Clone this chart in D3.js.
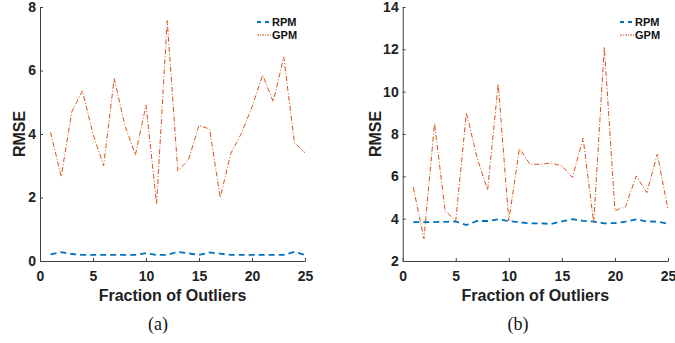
<!DOCTYPE html>
<html>
<head>
<meta charset="utf-8">
<script src="https://cdn.jsdelivr.net/npm/d3@7"></script>
<style>
  body { margin: 0; background: #fff; }
  svg { display: block; }
  .tick text { font-family: "Liberation Sans", Arial, sans-serif; font-weight: bold; font-size: 14px; fill: #222; }
  .axis path, .axis line { stroke: #404040; stroke-width: 1; }
  .lab { font-family: "Liberation Sans", Arial, sans-serif; font-weight: bold; font-size: 16px; fill: #222; }
  .leg { font-family: "Liberation Sans", Arial, sans-serif; font-weight: bold; font-size: 11px; fill: #111; }
  .cap { font-family: "Liberation Serif", "Times New Roman", serif; font-size: 18px; fill: #111; }
</style>
</head>
<body>
<svg id="chart" width="675" height="343"></svg>
<script>
// fraction of outliers
var outliers = [1,2,3,4,5,6,7,8,9,10,11,12,13,14,15,16,17,18,19,20,21,22,23,24,25];
var xTicks = [0,5,10,15,20,25];

// panel (a)
var rpmA = [0.21,0.28,0.22,0.19,0.19,0.19,0.19,0.19,0.19,0.25,0.19,0.19,0.29,0.24,0.19,0.27,0.23,0.19,0.19,0.19,0.19,0.19,0.19,0.29,0.19];
var gpmA = [4.05,2.66,4.70,5.36,4.0,3.0,5.75,4.28,3.34,4.91,1.80,7.57,2.84,3.18,4.28,4.15,2.0,3.39,4.02,4.85,5.86,5.02,6.42,3.73,3.41];
var yTicksA = [0,2,4,6,8];

// panel (b)
var rpmB = [3.84,3.84,3.84,3.85,3.87,3.70,3.89,3.89,3.97,3.89,3.83,3.78,3.78,3.75,3.87,3.98,3.9,3.86,3.78,3.79,3.86,3.97,3.87,3.86,3.76];
var gpmB = [5.48,3.05,8.5,4.36,3.9,9.0,6.9,5.35,10.36,3.9,7.32,6.57,6.57,6.63,6.49,5.95,7.8,3.81,12.12,4.38,4.57,6.02,5.23,7.05,4.41];
var yTicksB = [2,4,6,8,10,12,14];

var seriesNames = ["RPM", "GPM"];
var colors = ["#0072BD", "#D95319"];
var dashes = ["6,4", "5,2,1,2"];
var widths = [1.8, 1];

var svg = d3.select("#chart");

function panel(opts) {
  var x = d3.scaleLinear().domain([0, 25]).range([opts.x0, opts.x1]);
  var y = d3.scaleLinear().domain(opts.yDomain).range([261, 7]);
  var g = svg.append("g");

  g.append("g").attr("class", "axis")
    .attr("transform", "translate(0,261)")
    .call(d3.axisBottom(x).tickValues(xTicks).tickSizeInner(-3).tickSizeOuter(0).tickPadding(10));
  g.append("g").attr("class", "axis")
    .attr("transform", "translate(" + opts.x0 + ",0)")
    .call(d3.axisLeft(y).tickValues(opts.yTicks).tickSizeInner(-3).tickSizeOuter(0).tickPadding(4));

  var line = d3.line().x(function(d, i){ return x(outliers[i]); }).y(function(d){ return y(d); });
  [opts.rpm, opts.gpm].forEach(function(s, k){
    g.append("path").datum(s)
      .attr("d", line)
      .attr("fill", "none")
      .attr("stroke", colors[k])
      .attr("stroke-width", widths[k])
      .attr("stroke-dasharray", dashes[k]);
  });

  // legend
  seriesNames.forEach(function(n, k){
    var ly = 22 + k * 13;
    g.append("line")
      .attr("x1", opts.legX).attr("x2", opts.legX + 14)
      .attr("y1", ly).attr("y2", ly)
      .attr("stroke", colors[k])
      .attr("stroke-width", widths[k])
      .attr("stroke-dasharray", k == 0 ? "4,4" : "2,1,1,1");
    g.append("text").attr("class", "leg")
      .attr("x", opts.legX + 15).attr("y", ly + 4)
      .text(n);
  });

  g.append("text").attr("class", "lab")
    .attr("transform", "translate(" + opts.yLabX + ",134) rotate(-90)")
    .attr("text-anchor", "middle")
    .text("RMSE");
  g.append("text").attr("class", "lab")
    .attr("x", (opts.x0 + opts.x1) / 2).attr("y", 301)
    .attr("text-anchor", "middle")
    .text("Fraction of Outliers");
  g.append("text").attr("class", "cap")
    .attr("x", opts.capX).attr("y", 330)
    .attr("text-anchor", "middle")
    .text(opts.cap);
}

panel({x0: 40, x1: 305, yDomain: [0, 8], yTicks: yTicksA, rpm: rpmA, gpm: gpmA,
       legX: 257, yLabX: 25, capX: 158, cap: "(a)"});
panel({x0: 402.7, x1: 668, yDomain: [2, 14], yTicks: yTicksB, rpm: rpmB, gpm: gpmB,
       legX: 620, yLabX: 381, capX: 518, cap: "(b)"});
</script>
</body>
</html>
